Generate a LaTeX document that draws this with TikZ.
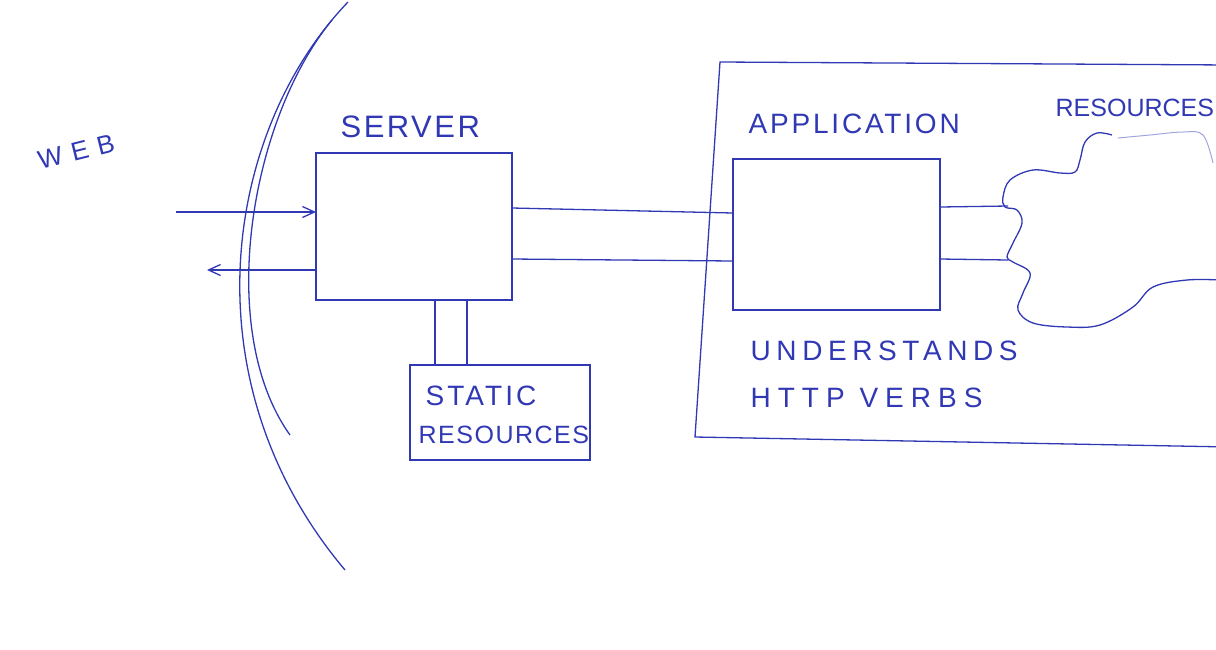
\documentclass[tikz,border=0pt]{standalone}
\usepackage{fontspec}
\newfontfamily\hand{Liberation Sans}
\usepackage{tikz}
\usetikzlibrary{arrows.meta, calc}
\definecolor{penblue}{RGB}{48,56,180}

\begin{document}
\begin{tikzpicture}[
    x=1pt, y=-1pt,
    color=penblue, line width=1.3pt,
    >={Straight Barb[length=12pt,width=11pt]},
    box/.style={rectangle, draw, outer sep=0pt, inner sep=0pt},
    lbl/.style={inner sep=0pt, anchor=base west},
    lighter/.style={draw=penblue!45, line width=1pt}
]
\useasboundingbox (0,0) rectangle (1216,649);
\clip (0,0) rectangle (1216,649);

\node[box, minimum width=196, minimum height=147] (srv) at (414,226.5) {};
\node[box, minimum width=207, minimum height=151] (app) at (836.5,234.5) {};
\node[box, minimum width=180, minimum height=95] (st) at (500,412.5) {};

\node[lbl, rotate=14] (web) at (40,170) {\hand\fontsize{26}{30}\selectfont\addfontfeature{LetterSpace=36}WEB};
\node[lbl] (srvlbl) at (340,137) {\hand\fontsize{31}{36}\selectfont\addfontfeature{LetterSpace=8}SERVER};
\node[lbl] (applbl) at (748,133) {\hand\fontsize{28}{32}\selectfont\addfontfeature{LetterSpace=10}APPLICATION};
\node[lbl] (verbs1) at (750,360) {\hand\fontsize{28}{32}\selectfont\addfontfeature{LetterSpace=20}UNDERSTANDS};
\node[lbl] (verbs2) at (750,407) {\hand\fontsize{28}{32}\selectfont\addfontfeature{LetterSpace=25}HTTP VERBS};
\node[lbl] (reslbl) at (1055,116) {\hand\fontsize{25}{30}\selectfont RESOURCES};
\node[lbl] (stlbl1) at (425,405) {\hand\fontsize{28}{32}\selectfont\addfontfeature{LetterSpace=11}STATIC};
\node[lbl] (stlbl2) at (418,443) {\hand\fontsize{25}{30}\selectfont\addfontfeature{LetterSpace=6}RESOURCES};

% the web border
\draw (348,2) .. controls (225,130) and (185,380) .. (345,570);
\draw (332,20) .. controls (250,120) and (215,330) .. (290,435);

% application frame
\draw (1230,65) -- (720,62) -- (695,437) -- (1230,447);

% resources cloud
\draw plot[smooth, tension=0.6] coordinates {(1112,135) (1097,133) (1085,142) (1080,160) (1075,172)
  (1060,173) (1033,170) (1010,180) (1003,197) (1005,207) (1017,210) (1022,223) (1013,243)
  (1007,257) (1013,262) (1030,273) (1023,293) (1018,310) (1033,323) (1067,327) (1100,325)
  (1133,307) (1153,287) (1187,280) (1220,280)};
\draw[lighter] plot[smooth, tension=0.6] coordinates {(1118,138) (1150,135) (1183,132) (1203,135) (1213,163)};
\coordinate (cl1) at (1008,206);
\coordinate (cl2) at (1008,260);

\coordinate (webin) at (176,212);
\coordinate (webout) at (207,270);
\draw[->] (webin) -- (webin -| srv.west);
\draw[->] (webout -| srv.west) -- (webout);

\draw ([yshift=18.5]srv.east) -- ([yshift=21.5]app.west);
\draw ([yshift=-32.5]srv.east) -- ([yshift=-26.5]app.west);

\draw ([yshift=27.5]app.east) -- (cl1);
\draw ([yshift=-24.5]app.east) -- (cl2);

\foreach \a/\b in {21/-65, 53/-33}
  \draw ([xshift=\a]srv.south) -- ([xshift=\b]st.north);

\end{tikzpicture}
\end{document}
